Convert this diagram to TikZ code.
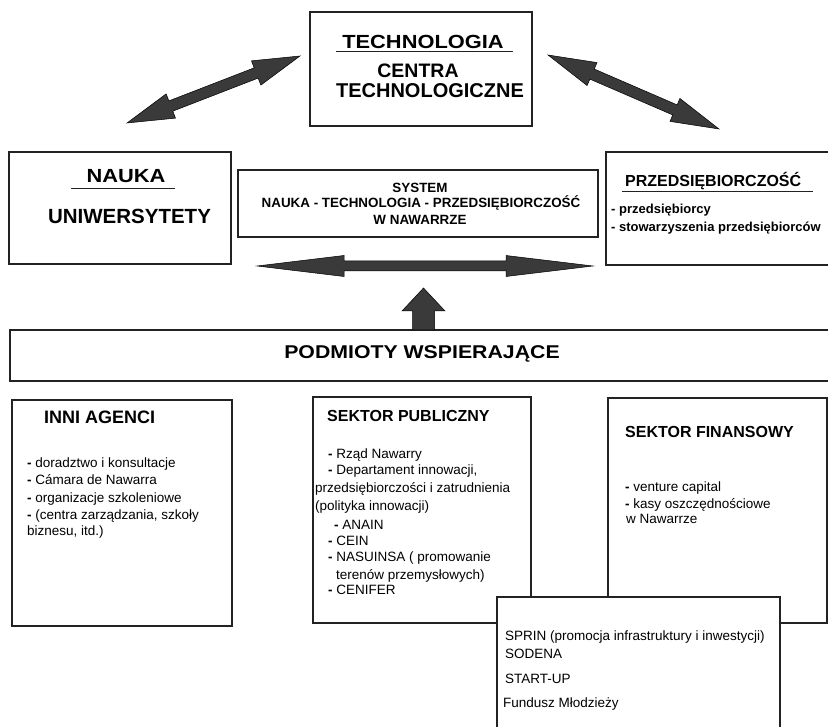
\documentclass[tikz,border=0pt]{standalone}
\usepackage{fontspec}
\setmainfont{Liberation Sans}
\newfontfamily\widefont[FakeStretch=1.15]{Liberation Sans}
\usetikzlibrary{calc}
\definecolor{arrowgray}{HTML}{3A3A3A}
\definecolor{edgecol}{HTML}{222222}
\tikzset{
  box/.style={draw=edgecol, line width=1.2pt, fill=white, inner sep=0pt, anchor=center},
  txt/.style={inner sep=0pt, anchor=base west, font=\fontsize{13.5}{16}\selectfont},
  btxt/.style={inner sep=0pt, anchor=base west, font=\bfseries\fontsize{13}{16}\selectfont},
  ctxt/.style={inner sep=0pt, anchor=base},
  bigarrow/.style={fill=arrowgray, draw=black, line width=0.5pt, line join=miter},
  uline/.style={draw=edgecol, line width=1.8pt},
}
% #1 tip A, #2 tip B, #3 head length, #4 head half width, #5 shaft half width
\newcommand\blockdbl[5]{%
  \coordinate (#1h) at ($(#1)!#3!(#2)$);
  \coordinate (#2h) at ($(#2)!#3!(#1)$);
  \path[bigarrow] (#1) -- ($(#1h)!#4!90:(#2)$) -- ($(#1h)!#5!90:(#2)$)
     -- ($(#2h)!#5!-90:(#1)$) -- ($(#2h)!#4!-90:(#1)$) -- (#2)
     -- ($(#2h)!#4!90:(#1)$) -- ($(#2h)!#5!90:(#1)$)
     -- ($(#1h)!#5!-90:(#2)$) -- ($(#1h)!#4!-90:(#2)$) -- cycle;
}
\begin{document}
\begin{tikzpicture}[x=1pt,y=-1pt]
\useasboundingbox (0,0) rectangle (828,727);
\clip (0,0) rectangle (828,727);
\fill[white] (0,0) rectangle (828,727);

% boxes
\node[box, minimum width=222pt, minimum height=114pt] (tech) at (421,69) {};
\node[box, minimum width=222pt, minimum height=112pt] (nauka) at (120,208) {};
\node[box, minimum width=360pt, minimum height=67pt] (system) at (418,203.5) {};
\node[box, minimum width=234pt, minimum height=113pt] (przeds) at (723,208.5) {};
\node[box, minimum width=830pt, minimum height=51pt] (podm) at (425,355.5) {};
\node[box, minimum width=220pt, minimum height=226pt] (inni) at (122,513) {};
\node[box, minimum width=218pt, minimum height=226pt] (publ) at (422,510) {};
\node[box, minimum width=219pt, minimum height=225pt] (fin) at (717.5,510.5) {};
\node[box, minimum width=283pt, minimum height=163pt] (sprin) at (638.5,678.5) {};

% block arrows
\coordinate (la) at (127,123); \coordinate (lb) at (300,56);
\blockdbl{la}{lb}{47pt}{13pt}{5.5pt}
\coordinate (ra) at (548,55); \coordinate (rb) at (719,129);
\blockdbl{ra}{rb}{48pt}{12.5pt}{5.5pt}
\coordinate (ha) at (257,266); \coordinate (hb) at (593,266);
\blockdbl{ha}{hb}{87pt}{10.5pt}{5pt}
\coordinate (ua) at (423.5,288); \coordinate (ub) at (423.5,330);
\path[bigarrow] (ua) -- ($(ua)+(21.5,23)$) -- ($(ua)+(11,23)$) -- ($(ub)+(11,0)$)
   -- ($(ub)+(-11,0)$) -- ($(ua)+(-11,23)$) -- ($(ua)+(-21.5,23)$) -- cycle;

% TECHNOLOGIA
\node[ctxt, font=\widefont\bfseries\fontsize{19}{22}\selectfont] (t1) at (423,49) {TECHNOLOGIA};
\draw[uline] (336,51.5) -- (513,51.5);
\node[ctxt, font=\bfseries\fontsize{19.5}{22}\selectfont] (t2) at (418,78) {CENTRA};
\node[ctxt, font=\bfseries\fontsize{20}{22}\selectfont] (t3) at (430,98) {TECHNOLOGICZNE};

% NAUKA
\node[ctxt, font=\widefont\bfseries\fontsize{19}{22}\selectfont] (n1) at (126,183) {NAUKA};
\draw[uline] (71,188.5) -- (175,188.5);
\node[ctxt, font=\bfseries\fontsize{20.5}{22}\selectfont] (n2) at (129.5,224) {UNIWERSYTETY};

% SYSTEM
\node[ctxt, font=\bfseries\fontsize{13.4}{16}\selectfont] (s1) at (420,192.5) {SYSTEM};
\node[ctxt, font=\bfseries\fontsize{13.4}{16}\selectfont] (s2) at (421,208) {NAUKA - TECHNOLOGIA - PRZEDSIĘBIORCZOŚĆ};
\node[ctxt, font=\bfseries\fontsize{13.4}{16}\selectfont] (s3) at (420,225) {W NAWARRZE};

% PRZEDSIEBIORCZOSC
\node[btxt, font=\bfseries\fontsize{16}{18}\selectfont] (p1) at (625,187) {PRZEDSIĘBIORCZOŚĆ};
\draw[uline] (622,191.5) -- (813,191.5);
\node[btxt] (p2) at (611,214) {- przedsiębiorcy};
\node[btxt] (p3) at (611,232) {- stowarzyszenia przedsiębiorców};

% PODMIOTY
\node[ctxt, font=\widefont\bfseries\fontsize{18.5}{22}\selectfont] (pw) at (422,359) {PODMIOTY WSPIERAJĄCE};

% INNI AGENCI
\node[btxt, font=\bfseries\fontsize{18}{20}\selectfont] (i0) at (44,424) {INNI AGENCI};
\node[txt] (i1) at (27,467.5) {\textbf{-} doradztwo i konsultacje};
\node[txt] (i2) at (27,485) {\textbf{-} Cámara de Nawarra};
\node[txt] (i3) at (27,502) {\textbf{-} organizacje szkoleniowe};
\node[txt] (i4) at (27,519.5) {\textbf{-} (centra zarządzania, szkoły};
\node[txt] (i5) at (27,535.5) {biznesu, itd.)};

% SEKTOR PUBLICZNY
\node[btxt, font=\bfseries\fontsize{16}{18}\selectfont] (u0) at (327,422) {SEKTOR PUBLICZNY};
\node[txt] (u1) at (328,458.5) {\textbf{-} Rząd Nawarry};
\node[txt] (u2) at (328,475) {\textbf{-} Departament innowacji,};
\node[txt] (u3) at (315,492.5) {przedsiębiorczości i zatrudnienia};
\node[txt] (u4) at (315,510) {(polityka innowacji)};
\node[txt] (u5) at (334,529) {\textbf{-} ANAIN};
\node[txt] (u6) at (328,545) {\textbf{-} CEIN};
\node[txt] (u7) at (328,561.5) {\textbf{-} NASUINSA ( promowanie};
\node[txt] (u8) at (336,579) {terenów przemysłowych)};
\node[txt] (u9) at (328,594.5) {\textbf{-} CENIFER};

% SEKTOR FINANSOWY
\node[btxt, font=\bfseries\fontsize{16}{18}\selectfont] (f0) at (625,438) {SEKTOR FINANSOWY};
\node[txt] (f1) at (625,491.5) {\textbf{-} venture capital};
\node[txt] (f2) at (625,508) {\textbf{-} kasy oszczędnościowe};
\node[txt] (f3) at (626,523) {w Nawarrze};

% SPRIN
\node[txt] (r1) at (505,640) {SPRIN (promocja infrastruktury i inwestycji)};
\node[txt] (r2) at (505,658) {SODENA};
\node[txt] (r3) at (505,683) {START-UP};
\node[txt] (r4) at (503,707.5) {Fundusz Młodzieży};
\end{tikzpicture}
\end{document}
